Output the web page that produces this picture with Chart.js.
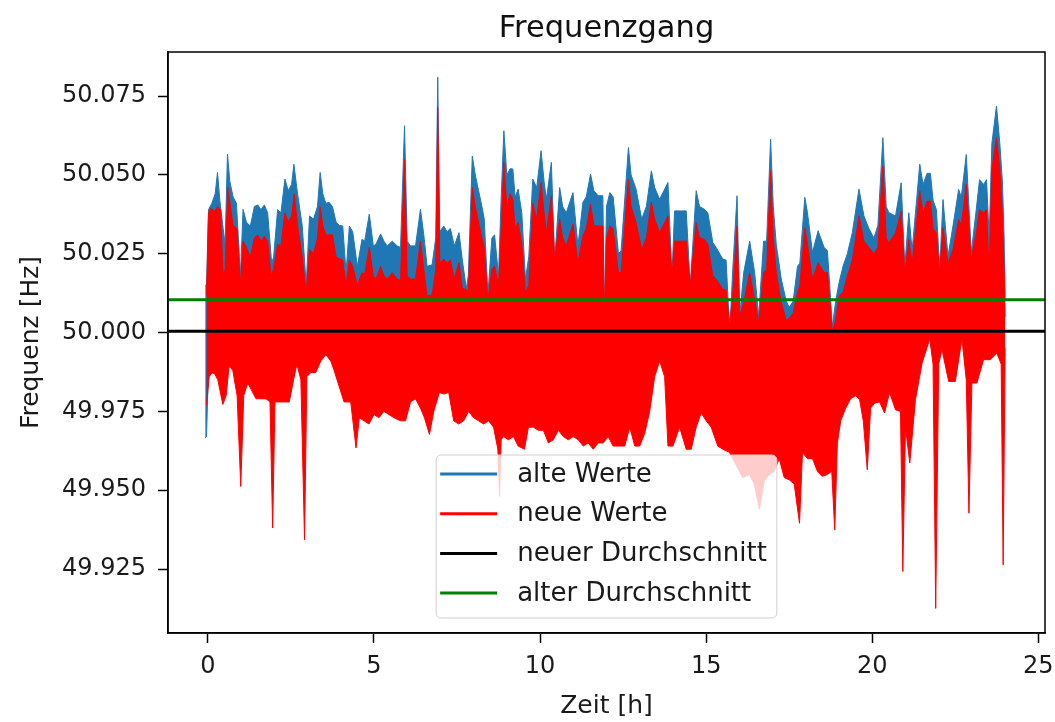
<!DOCTYPE html>
<html lang="de">
<head>
<meta charset="utf-8">
<title>Frequenzgang</title>
<script src="https://cdn.jsdelivr.net/npm/chart.js@4.4.1/dist/chart.umd.min.js"></script>
<style>
  html, body { margin: 0; padding: 0; background: #fff; }
  #wrap { width: 1055px; height: 722px; }
</style>
</head>
<body>
<div id="wrap"><canvas id="chart" width="1055" height="722"></canvas></div>
<script>
// Zeit [h] / Frequenz [Hz] - Hüllkurven der Messreihen
const titleText = "Frequenzgang";
const xTicks = [0, 5, 10, 15, 20, 25];
const yTicks = [49.925, 49.950, 49.975, 50.000, 50.025, 50.050, 50.075];
const xMin = -1.2, xMax = 25.2;
const yMin = 49.9047, yMax = 50.089;

const neuerDurchschnitt = 50.0004;
const alterDurchschnitt = 50.0104;

// neue Werte, obere Hüllkurve [h, Hz]
const neueWerteOben = [
  [-0.04, 50.012], [0.02, 50.038], [0.1, 50.0395], [0.2, 50.0385], [0.3, 50.040], [0.38, 50.039],
  [0.46, 50.018], [0.52, 50.020], [0.6, 50.046], [0.68, 50.040], [0.76, 50.034], [0.88, 50.033],
  [0.98, 50.015], [1.06, 50.029], [1.16, 50.027], [1.28, 50.024], [1.4, 50.030], [1.5, 50.031],
  [1.6, 50.029], [1.7, 50.0305], [1.8, 50.029], [1.9, 50.018], [1.98, 50.020], [2.1, 50.028],
  [2.2, 50.0275], [2.32, 50.038], [2.42, 50.035], [2.52, 50.037], [2.6, 50.044], [2.7, 50.034],
  [2.84, 50.024], [2.96, 50.0127], [3.06, 50.0264], [3.18, 50.025], [3.3, 50.030], [3.38, 50.040],
  [3.46, 50.034], [3.55, 50.031], [3.65, 50.031], [3.75, 50.031], [3.86, 50.024], [3.96, 50.0235],
  [4.06, 50.023], [4.16, 50.015], [4.26, 50.023], [4.36, 50.021], [4.5, 50.015], [4.64, 50.019],
  [4.72, 50.0185], [4.86, 50.027], [4.98, 50.018], [5.06, 50.017], [5.2, 50.021], [5.3, 50.018],
  [5.4, 50.017], [5.55, 50.019], [5.7, 50.017], [5.8, 50.0165], [5.92, 50.055], [6.0, 50.018],
  [6.1, 50.017], [6.25, 50.017], [6.4, 50.029], [6.5, 50.020], [6.6, 50.0116], [6.75, 50.012],
  [6.86, 50.020], [6.92, 50.0714], [6.98, 50.022], [7.1, 50.0233], [7.2, 50.022], [7.3, 50.023],
  [7.42, 50.017], [7.56, 50.0222], [7.66, 50.014], [7.78, 50.0137], [7.84, 50.0126], [7.96, 50.046],
  [8.05, 50.040], [8.15, 50.035], [8.25, 50.030], [8.32, 50.027], [8.43, 50.0106], [8.55, 50.020],
  [8.63, 50.021], [8.75, 50.015], [8.82, 50.030], [8.91, 50.054], [9.0, 50.040], [9.1, 50.044],
  [9.18, 50.0423], [9.25, 50.033], [9.34, 50.0349], [9.45, 50.028], [9.56, 50.0126], [9.66, 50.015],
  [9.78, 50.041], [9.9, 50.036], [10.03, 50.0476], [10.12, 50.038], [10.19, 50.0317], [10.34, 50.0434],
  [10.44, 50.023], [10.59, 50.036], [10.68, 50.030], [10.79, 50.0275], [10.99, 50.0344], [11.14, 50.0222],
  [11.29, 50.0307], [11.39, 50.033], [11.52, 50.0407], [11.62, 50.034], [11.75, 50.0338], [11.89, 50.0338],
  [11.94, 50.0053], [12.0, 50.030], [12.1, 50.0338], [12.2, 50.033], [12.36, 50.019], [12.44, 50.019],
  [12.66, 50.0487], [12.74, 50.040], [12.89, 50.0349], [13.06, 50.0264], [13.2, 50.030], [13.35, 50.0413],
  [13.45, 50.036], [13.6, 50.0317], [13.85, 50.037], [13.97, 50.0179], [14.05, 50.029], [14.25, 50.029],
  [14.4, 50.029], [14.52, 50.0148], [14.7, 50.0349], [14.8, 50.030], [14.95, 50.0296], [15.05, 50.028],
  [15.2, 50.018], [15.3, 50.017], [15.5, 50.0137], [15.6, 50.0135], [15.71, 50.002], [15.8, 50.012],
  [15.93, 50.0338], [16.01, 50.0053], [16.13, 50.0095], [16.31, 50.019], [16.46, 50.0106], [16.58, 50.003],
  [16.73, 50.019], [16.82, 50.020], [16.94, 50.0513], [17.02, 50.030], [17.11, 50.019], [17.26, 50.0095],
  [17.41, 50.004], [17.5, 50.0045], [17.62, 50.0063], [17.75, 50.0127], [17.82, 50.015], [17.97, 50.0333],
  [18.05, 50.028], [18.2, 50.017], [18.37, 50.0222], [18.55, 50.019], [18.65, 50.019], [18.8, 50.000],
  [18.9, 50.004], [19.0, 50.0116], [19.12, 50.0127], [19.25, 50.018], [19.4, 50.023], [19.6, 50.037],
  [19.75, 50.029], [19.9, 50.027], [20.05, 50.025], [20.17, 50.027], [20.32, 50.0528], [20.42, 50.030],
  [20.5, 50.0285], [20.7, 50.0316], [20.87, 50.0385], [20.98, 50.0189], [21.1, 50.0295], [21.2, 50.022],
  [21.43, 50.0449], [21.53, 50.038], [21.65, 50.0417], [21.75, 50.0417], [21.83, 50.033], [21.93, 50.0316],
  [22.03, 50.0189], [22.13, 50.0332], [22.28, 50.022], [22.43, 50.0263], [22.6, 50.0359], [22.68, 50.034],
  [22.83, 50.047], [22.98, 50.0232], [23.13, 50.0316], [23.23, 50.039], [23.35, 50.038], [23.44, 50.039],
  [23.52, 50.0189], [23.6, 50.052], [23.74, 50.0618], [23.84, 50.052], [23.92, 50.037], [23.97, 50.020],
  [24.0, 50.005]
];

// neue Werte, untere Hüllkurve [h, Hz]
const neueWerteUnten = [
  [-0.04, 49.977], [0.04, 49.986], [0.12, 49.9872], [0.2, 49.987], [0.3, 49.985], [0.45, 49.9772],
  [0.55, 49.980], [0.64, 49.9894], [0.75, 49.988], [0.88, 49.980], [0.99, 49.9512], [1.08, 49.980],
  [1.2, 49.984], [1.3, 49.982], [1.45, 49.979], [1.6, 49.979], [1.75, 49.979], [1.87, 49.978],
  [1.95, 49.938], [2.02, 49.978], [2.15, 49.978], [2.3, 49.978], [2.45, 49.978], [2.58, 49.985],
  [2.68, 49.990], [2.8, 49.985], [2.91, 49.9343], [2.98, 49.986], [3.1, 49.9873], [3.25, 49.9873],
  [3.4, 49.991], [3.55, 49.993], [3.7, 49.991], [3.8, 49.988], [3.95, 49.983], [4.1, 49.978],
  [4.3, 49.978], [4.46, 49.9634], [4.56, 49.973], [4.7, 49.972], [4.85, 49.971], [5.0, 49.974],
  [5.15, 49.973], [5.3, 49.975], [5.45, 49.974], [5.6, 49.973], [5.8, 49.972], [5.95, 49.972],
  [6.1, 49.978], [6.25, 49.979], [6.4, 49.976], [6.52, 49.973], [6.67, 49.9677], [6.8, 49.975],
  [6.97, 49.981], [7.1, 49.9805], [7.25, 49.981], [7.4, 49.972], [7.55, 49.971], [7.7, 49.972],
  [7.85, 49.975], [8.0, 49.973], [8.15, 49.972], [8.3, 49.971], [8.45, 49.972], [8.6, 49.970],
  [8.73, 49.963], [8.78, 49.948], [8.83, 49.966], [8.9, 49.967], [9.05, 49.966], [9.2, 49.967],
  [9.34, 49.964], [9.53, 49.963], [9.65, 49.970], [9.8, 49.970], [9.95, 49.969], [10.1, 49.969],
  [10.25, 49.965], [10.4, 49.966], [10.55, 49.969], [10.7, 49.967], [10.85, 49.966], [11.0, 49.967],
  [11.15, 49.966], [11.3, 49.964], [11.45, 49.965], [11.6, 49.963], [11.75, 49.965], [11.9, 49.965],
  [12.05, 49.967], [12.2, 49.964], [12.4, 49.964], [12.55, 49.964], [12.7, 49.970], [12.85, 49.964],
  [13.0, 49.964], [13.15, 49.968], [13.3, 49.975], [13.45, 49.986], [13.6, 49.991], [13.75, 49.986],
  [13.85, 49.964], [14.0, 49.964], [14.2, 49.970], [14.4, 49.963], [14.55, 49.963], [14.7, 49.970],
  [14.85, 49.9745], [15.0, 49.972], [15.15, 49.970], [15.35, 49.964], [15.5, 49.963], [15.7, 49.962],
  [15.9, 49.958], [16.1, 49.954], [16.3, 49.955], [16.45, 49.952], [16.6, 49.944], [16.75, 49.953],
  [16.9, 49.955], [17.05, 49.956], [17.2, 49.960], [17.35, 49.954], [17.5, 49.9533], [17.65, 49.952],
  [17.81, 49.9395], [17.9, 49.962], [18.05, 49.960], [18.2, 49.960], [18.35, 49.956], [18.5, 49.9544],
  [18.65, 49.955], [18.78, 49.956], [18.87, 49.9374], [18.95, 49.965], [19.05, 49.972], [19.2, 49.976],
  [19.35, 49.979], [19.5, 49.980], [19.62, 49.9787], [19.73, 49.972], [19.85, 49.9565], [19.95, 49.976],
  [20.07, 49.9776], [20.22, 49.978], [20.37, 49.9745], [20.52, 49.981], [20.7, 49.9755], [20.85, 49.975],
  [20.92, 49.9242], [21.0, 49.970], [21.13, 49.9586], [21.3, 49.9787], [21.5, 49.9903], [21.73, 49.998],
  [21.83, 49.990], [21.91, 49.9125], [22.0, 49.990], [22.1, 49.9946], [22.3, 49.9845], [22.5, 49.9845],
  [22.7, 49.998], [22.83, 49.985], [22.91, 49.9427], [23.0, 49.984], [23.15, 49.984], [23.35, 49.9914],
  [23.55, 49.9914], [23.75, 49.9935], [23.88, 49.990], [23.94, 49.9263], [24.0, 49.995]
];

// alte Werte, obere Hüllkurve [h, Hz]
const alteWerteOben = [
  [-0.08, 50.015], [-0.04, 50.015], [0.02, 50.039], [0.12, 50.041], [0.22, 50.044], [0.29, 50.0508],
  [0.36, 50.042], [0.46, 50.033], [0.52, 50.028], [0.59, 50.0566], [0.66, 50.048], [0.76, 50.043],
  [0.86, 50.041], [0.98, 50.018], [1.06, 50.0391], [1.16, 50.035], [1.28, 50.0338], [1.4, 50.040],
  [1.5, 50.0405], [1.6, 50.039], [1.7, 50.0405], [1.8, 50.038], [1.92, 50.022], [1.98, 50.024],
  [2.1, 50.039], [2.2, 50.038], [2.32, 50.0487], [2.42, 50.045], [2.52, 50.047], [2.59, 50.0534],
  [2.7, 50.044], [2.84, 50.034], [2.96, 50.015], [3.06, 50.037], [3.18, 50.036], [3.3, 50.040],
  [3.38, 50.0508], [3.46, 50.044], [3.55, 50.041], [3.65, 50.0413], [3.75, 50.040], [3.86, 50.035],
  [3.96, 50.034], [4.06, 50.0338], [4.16, 50.019], [4.26, 50.0338], [4.36, 50.032], [4.5, 50.021],
  [4.64, 50.0296], [4.72, 50.029], [4.86, 50.0376], [4.98, 50.0275], [5.06, 50.028], [5.2, 50.0313],
  [5.3, 50.029], [5.4, 50.0275], [5.55, 50.029], [5.7, 50.0275], [5.8, 50.027], [5.92, 50.0656],
  [6.0, 50.029], [6.1, 50.0275], [6.25, 50.0275], [6.4, 50.0391], [6.5, 50.031], [6.6, 50.021],
  [6.75, 50.0215], [6.86, 50.030], [6.92, 50.081], [6.98, 50.032], [7.1, 50.0338], [7.2, 50.032],
  [7.3, 50.033], [7.42, 50.0275], [7.56, 50.0317], [7.66, 50.023], [7.78, 50.014], [7.84, 50.018],
  [7.96, 50.056], [8.05, 50.050], [8.15, 50.045], [8.25, 50.040], [8.32, 50.036], [8.43, 50.012],
  [8.55, 50.030], [8.63, 50.031], [8.75, 50.018], [8.82, 50.040], [8.91, 50.064], [9.0, 50.050],
  [9.1, 50.052], [9.18, 50.0519], [9.25, 50.043], [9.34, 50.0455], [9.45, 50.038], [9.56, 50.017],
  [9.66, 50.024], [9.78, 50.0487], [9.9, 50.046], [10.03, 50.0577], [10.12, 50.048], [10.19, 50.0423],
  [10.34, 50.054], [10.44, 50.023], [10.59, 50.046], [10.68, 50.040], [10.79, 50.038], [10.99, 50.0444],
  [11.14, 50.0275], [11.29, 50.0413], [11.39, 50.043], [11.52, 50.0503], [11.62, 50.045], [11.75, 50.0434],
  [11.89, 50.0434], [11.94, 50.0053], [12.0, 50.040], [12.1, 50.0444], [12.2, 50.043], [12.36, 50.025],
  [12.44, 50.026], [12.66, 50.0587], [12.74, 50.050], [12.89, 50.0455], [13.06, 50.036], [13.2, 50.040],
  [13.35, 50.0513], [13.45, 50.046], [13.6, 50.0423], [13.85, 50.0476], [13.97, 50.018], [14.05, 50.0386],
  [14.25, 50.0386], [14.4, 50.0386], [14.52, 50.0148], [14.7, 50.045], [14.8, 50.040], [14.95, 50.0391],
  [15.05, 50.038], [15.2, 50.0286], [15.3, 50.027], [15.5, 50.0233], [15.6, 50.023], [15.71, 50.000],
  [15.8, 50.020], [15.93, 50.0434], [16.01, 50.0053], [16.13, 50.019], [16.31, 50.029], [16.46, 50.019],
  [16.58, 50.005], [16.73, 50.029], [16.82, 50.029], [16.94, 50.0614], [17.02, 50.040], [17.11, 50.028],
  [17.26, 50.017], [17.41, 50.010], [17.5, 50.008], [17.62, 50.010], [17.75, 50.021], [17.82, 50.022],
  [17.97, 50.0429], [18.05, 50.038], [18.2, 50.0254], [18.37, 50.0323], [18.55, 50.027], [18.65, 50.026],
  [18.8, 50.002], [18.9, 50.010], [19.0, 50.0158], [19.12, 50.021], [19.25, 50.025], [19.4, 50.0317],
  [19.6, 50.0455], [19.75, 50.037], [19.9, 50.033], [20.05, 50.030], [20.17, 50.034], [20.32, 50.0618],
  [20.42, 50.040], [20.5, 50.038], [20.7, 50.037], [20.87, 50.0475], [20.98, 50.021], [21.1, 50.038],
  [21.2, 50.026], [21.43, 50.0534], [21.53, 50.047], [21.65, 50.0505], [21.75, 50.0505], [21.83, 50.042],
  [21.93, 50.039], [22.03, 50.020], [22.13, 50.0422], [22.28, 50.0242], [22.43, 50.0338], [22.6, 50.0454],
  [22.68, 50.043], [22.83, 50.0565], [22.98, 50.0253], [23.13, 50.039], [23.23, 50.0485], [23.35, 50.047],
  [23.44, 50.0485], [23.52, 50.030], [23.6, 50.060], [23.74, 50.0719], [23.84, 50.060], [23.92, 50.0475],
  [23.97, 50.030], [24.0, 50.010]
];

// alte Werte, untere Hüllkurve - nur am Anfang unter den neuen Werten sichtbar
const alteWerteUnten = [
  [-0.08, 49.9666], [-0.04, 49.967], [0.02, 49.990], [0.1, 49.995]
];

const toPoints = pairs => pairs.map(([h, f]) => ({ x: h, y: f }));
const FONT = "'DejaVu Sans', 'Liberation Sans', sans-serif";

function band(label, pairs, color, order, inLegend) {
  return {
    label,
    data: toPoints(pairs),
    borderColor: color,
    backgroundColor: color,
    borderWidth: 1,
    pointRadius: 0,
    tension: 0,
    fill: { value: 50.0 },
    order,
    inLegend
  };
}

function hline(label, value, color, order) {
  return {
    label,
    data: [{ x: xMin, y: value }, { x: xMax, y: value }],
    borderColor: color,
    backgroundColor: color,
    borderWidth: 3,
    pointRadius: 0,
    fill: false,
    order,
    inLegend: true
  };
}

// Rahmen um die Achsen (wie die Spines bei matplotlib)
const framePlugin = {
  id: "frame",
  afterDatasetsDraw(chart) {
    const { ctx, chartArea: a } = chart;
    ctx.save();
    ctx.strokeStyle = "#000";
    ctx.lineWidth = 1.5;
    ctx.strokeRect(a.left, a.top, a.right - a.left, a.bottom - a.top);
    ctx.restore();
  }
};

// Titel über der Mitte der Achsen, nicht der ganzen Leinwand
const axesTitle = {
  id: "axesTitle",
  afterDraw(chart) {
    const { ctx, chartArea: a } = chart;
    ctx.save();
    ctx.font = "30.5px " + FONT;
    ctx.fillStyle = "#111";
    ctx.textAlign = "center";
    ctx.textBaseline = "alphabetic";
    ctx.fillText(titleText, (a.left + a.right) / 2, a.top - 15);
    ctx.restore();
  }
};

// Legende unten mittig innerhalb der Achsen
const legendOrder = ["alte Werte", "neue Werte", "neuer Durchschnitt", "alter Durchschnitt"];
const innerLegend = {
  id: "innerLegend",
  afterDraw(chart) {
    const { ctx, chartArea: a } = chart;
    const items = legendOrder.map(l => chart.data.datasets.find(d => d.label === l && d.inLegend));
    ctx.save();
    ctx.font = "26px " + FONT;
    const textW = Math.max(...items.map(d => ctx.measureText(d.label).width));
    const padL = 4, handle = 57, gap = 20, padR = 10, rowH = 39.7;
    const w = padL + handle + gap + textW + padR;
    const h = 163;
    const x0 = (a.left + a.right) / 2 - w / 2;
    const y0 = a.bottom - 15 - h;

    ctx.beginPath();
    ctx.roundRect(x0, y0, w, h, 5);
    ctx.fillStyle = "rgba(255,255,255,0.8)";
    ctx.fill();
    ctx.strokeStyle = "#d0d0d0";
    ctx.lineWidth = 1;
    ctx.stroke();

    items.forEach((d, i) => {
      const cy = y0 + 19 + i * rowH;
      ctx.strokeStyle = d.borderColor;
      ctx.lineWidth = 3;
      ctx.beginPath();
      ctx.moveTo(x0 + padL, cy);
      ctx.lineTo(x0 + padL + handle, cy);
      ctx.stroke();
      ctx.fillStyle = "#1a1a1a";
      ctx.textAlign = "left";
      ctx.textBaseline = "middle";
      ctx.fillText(d.label, x0 + padL + handle + gap, cy + 1);
    });
    ctx.restore();
  }
};

new Chart(document.getElementById("chart"), {
  type: "line",
  data: {
    datasets: [
      hline("alter Durchschnitt", alterDurchschnitt, "#008000", 0),
      hline("neuer Durchschnitt", neuerDurchschnitt, "#000000", 1),
      band("neue Werte", neueWerteOben, "#ff0000", 2, true),
      band("neue Werte unten", neueWerteUnten, "#ff0000", 3, false),
      band("alte Werte", alteWerteOben, "#1f77b4", 4, true),
      band("alte Werte unten", alteWerteUnten, "#1f77b4", 5, false)
    ]
  },
  options: {
    responsive: false,
    devicePixelRatio: 1,
    animation: false,
    layout: { padding: { left: 0, right: 10, top: 52, bottom: 0 } },
    plugins: {
      legend: { display: false },
      tooltip: { enabled: false },
      title: { display: false }
    },
    scales: {
      x: {
        type: "linear",
        min: xMin,
        max: xMax,
        afterBuildTicks: s => { s.ticks = xTicks.map(v => ({ value: v })); },
        afterFit: s => {
          s.height = 89;
          // keine Extra-Ränder für die äußeren Beschriftungen
          s.paddingLeft = 0;
          s.paddingRight = 0;
        },
        ticks: {
          color: "#1a1a1a",
          font: { family: FONT, size: 24 },
          padding: 9,
          callback: v => String(v)
        },
        grid: { drawOnChartArea: false, drawTicks: true, tickLength: 10, tickColor: "#000", tickWidth: 1.5 },
        border: { display: true, color: "#000", width: 1.5 },
        title: {
          display: true,
          text: "Zeit [h]",
          color: "#1a1a1a",
          font: { family: FONT, size: 25 },
          padding: { top: 0, bottom: 1 }
        }
      },
      y: {
        type: "linear",
        min: yMin,
        max: yMax,
        afterBuildTicks: s => { s.ticks = yTicks.map(v => ({ value: v })); },
        afterFit: s => {
          s.width = 168;
          s.paddingTop = 0;
          s.paddingBottom = 0;
        },
        ticks: {
          color: "#1a1a1a",
          font: { family: FONT, size: 24 },
          padding: 12,
          callback: v => Number(v).toFixed(3)
        },
        grid: { drawOnChartArea: false, drawTicks: true, tickLength: 10, tickColor: "#000", tickWidth: 1.5 },
        border: { display: true, color: "#000", width: 1.5 },
        title: {
          display: true,
          text: "Frequenz [Hz]",
          color: "#1a1a1a",
          font: { family: FONT, size: 25 },
          padding: { top: 16, bottom: 0 }
        }
      }
    }
  },
  plugins: [framePlugin, axesTitle, innerLegend]
});
</script>
</body>
</html>
